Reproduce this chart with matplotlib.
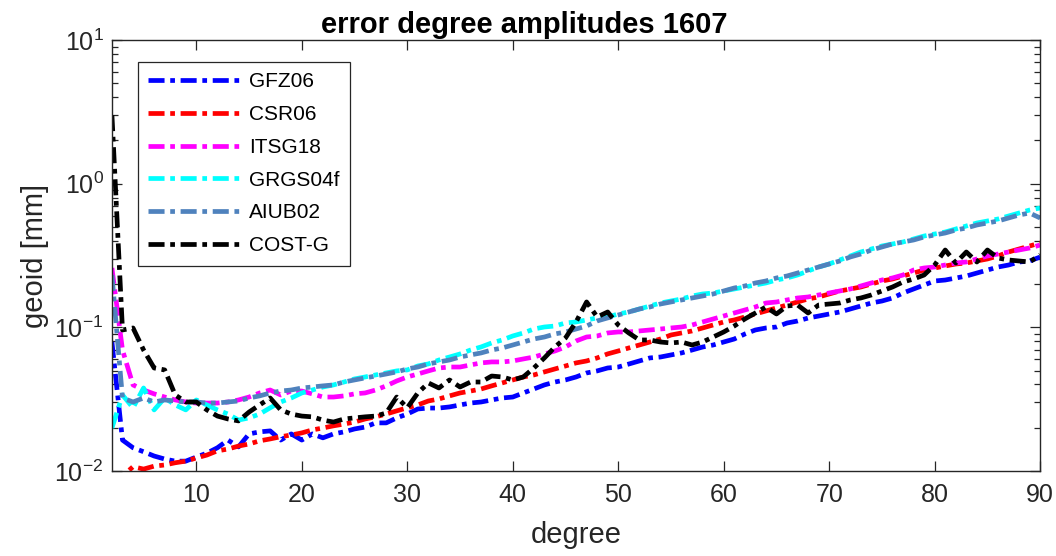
import matplotlib
matplotlib.use("Agg")
import matplotlib.pyplot as plt
import numpy as np

plt.rcParams['font.family'] = ['Liberation Sans', 'DejaVu Sans']
plt.rcParams['mathtext.fontset'] = 'custom'
plt.rcParams['mathtext.rm'] = 'Liberation Sans'
plt.rcParams['mathtext.it'] = 'Liberation Sans'

degree = np.arange(2, 91)

gfz06 = [0.0790, 0.0164, 0.0145, 0.0136, 0.0127, 0.0121, 0.0117, 0.0117, 0.0125, 0.0133,
         0.0145, 0.0164, 0.0147, 0.0181, 0.0187, 0.0190, 0.0164, 0.0181, 0.0164, 0.0181,
         0.0170, 0.0181, 0.0187, 0.0196, 0.0202, 0.0216, 0.0216, 0.0234, 0.0249, 0.0270,
         0.0274, 0.0274, 0.0279, 0.0288, 0.0297, 0.0302, 0.0312, 0.0322, 0.0327, 0.0349,
         0.0372, 0.0397, 0.0416, 0.0430, 0.0451, 0.0481, 0.0497, 0.0521, 0.0529, 0.0555,
         0.0583, 0.0612, 0.0621, 0.0642, 0.0663, 0.0695, 0.0729, 0.0753, 0.0790, 0.0829,
         0.0898, 0.0958, 0.0989, 0.1005, 0.1071, 0.1106, 0.1160, 0.1198, 0.1238, 0.1278,
         0.1341, 0.1407, 0.1476, 0.1524, 0.1599, 0.1733, 0.1848, 0.1970, 0.2101, 0.2134,
         0.2203, 0.2275, 0.2387, 0.2504, 0.2628, 0.2714, 0.2848, 0.2894, 0.3085]

csr06 = [0.0082, 0.0092, 0.0107, 0.0103, 0.0108, 0.0110, 0.0114, 0.0117, 0.0123, 0.0129,
         0.0138, 0.0142, 0.0149, 0.0154, 0.0162, 0.0167, 0.0173, 0.0178, 0.0184, 0.0193,
         0.0199, 0.0206, 0.0212, 0.0219, 0.0230, 0.0238, 0.0249, 0.0262, 0.0275, 0.0288,
         0.0307, 0.0317, 0.0333, 0.0349, 0.0360, 0.0372, 0.0391, 0.0410, 0.0430, 0.0451,
         0.0466, 0.0489, 0.0513, 0.0538, 0.0565, 0.0583, 0.0612, 0.0653, 0.0684, 0.0718,
         0.0753, 0.0790, 0.0829, 0.0884, 0.0913, 0.0943, 0.0989, 0.1038, 0.1089, 0.1125,
         0.1180, 0.1238, 0.1299, 0.1363, 0.1430, 0.1501, 0.1575, 0.1626, 0.1706, 0.1790,
         0.1848, 0.1908, 0.2002, 0.2101, 0.2169, 0.2276, 0.2388, 0.2505, 0.2587, 0.2672,
         0.2759, 0.2803, 0.2895, 0.2990, 0.3136, 0.3344, 0.3509, 0.3682, 0.3863]

itsg18 = [0.259, 0.0695, 0.0397, 0.0366, 0.0344, 0.0327, 0.0312, 0.0302, 0.0297, 0.0297,
          0.0297, 0.0302, 0.0312, 0.0327, 0.0349, 0.0366, 0.0338, 0.0360, 0.0360, 0.0344,
          0.0327, 0.0327, 0.0333, 0.0344, 0.0349, 0.0366, 0.0391, 0.0423, 0.0451, 0.0473,
          0.0497, 0.0521, 0.0529, 0.0529, 0.0547, 0.0565, 0.0574, 0.0574, 0.0583, 0.0602,
          0.0621, 0.0652, 0.0684, 0.0730, 0.0803, 0.0856, 0.0870, 0.0913, 0.0928, 0.0928,
          0.0943, 0.0958, 0.0973, 0.0989, 0.1005, 0.1038, 0.1089, 0.1143, 0.1199, 0.1258,
          0.1320, 0.1385, 0.1476, 0.1500, 0.1550, 0.1600, 0.1626, 0.1679, 0.1733, 0.1790,
          0.1848, 0.1939, 0.2035, 0.2135, 0.2205, 0.2313, 0.2506, 0.2588, 0.2629, 0.2715,
          0.2804, 0.2849, 0.2989, 0.3136, 0.3238, 0.3344, 0.3453, 0.3565, 0.3741]

grgs04f = [0.0199, 0.0338, 0.0275, 0.0378, 0.0266, 0.0322, 0.0288, 0.0266, 0.0312, 0.0288,
           0.0266, 0.0249, 0.0226, 0.0234, 0.0249, 0.0275, 0.0302, 0.0322, 0.0349, 0.0366,
           0.0384, 0.0397, 0.0416, 0.0437, 0.0451, 0.0466, 0.0481, 0.0497, 0.0505, 0.0538,
           0.0556, 0.0592, 0.0621, 0.0652, 0.0695, 0.0730, 0.0778, 0.0816, 0.0870, 0.0913,
           0.0973, 0.1005, 0.1021, 0.1072, 0.1089, 0.1125, 0.1162, 0.1180, 0.1238, 0.1278,
           0.1341, 0.1407, 0.1476, 0.1525, 0.1575, 0.1652, 0.1706, 0.1733, 0.1790, 0.1848,
           0.1908, 0.1970, 0.2035, 0.2135, 0.2205, 0.2313, 0.2466, 0.2629, 0.2759, 0.2942,
           0.3136, 0.3344, 0.3509, 0.3682, 0.3802, 0.3926, 0.4119, 0.4321, 0.4462, 0.4607,
           0.4835, 0.5073, 0.5323, 0.5496, 0.5675, 0.5954, 0.6248, 0.6555, 0.6769]

aiub02 = [0.2313, 0.0322, 0.0302, 0.0322, 0.0302, 0.0312, 0.0307, 0.0302, 0.0302, 0.0297,
          0.0297, 0.0302, 0.0307, 0.0322, 0.0333, 0.0349, 0.0360, 0.0366, 0.0378, 0.0384,
          0.0391, 0.0397, 0.0416, 0.0430, 0.0444, 0.0458, 0.0473, 0.0489, 0.0513, 0.0529,
          0.0556, 0.0574, 0.0592, 0.0621, 0.0642, 0.0663, 0.0695, 0.0718, 0.0753, 0.0790,
          0.0829, 0.0856, 0.0899, 0.0928, 0.0973, 0.1021, 0.1107, 0.1162, 0.1218, 0.1278,
          0.1341, 0.1385, 0.1453, 0.1501, 0.1550, 0.1600, 0.1652, 0.1706, 0.1790, 0.1878,
          0.1939, 0.2035, 0.2101, 0.2205, 0.2276, 0.2388, 0.2506, 0.2629, 0.2759, 0.2895,
          0.3087, 0.3238, 0.3453, 0.3623, 0.3802, 0.3926, 0.4053, 0.4253, 0.4391, 0.4534,
          0.4757, 0.4913, 0.5155, 0.5323, 0.5496, 0.5767, 0.6050, 0.6248, 0.5767]

costg = [3.00, 0.0958, 0.0989, 0.0695, 0.0521, 0.0505, 0.0338, 0.0302, 0.0302, 0.0266,
         0.0241, 0.0230, 0.0223, 0.0257, 0.0288, 0.0322, 0.0266, 0.0249, 0.0241, 0.0238,
         0.0226, 0.0219, 0.0230, 0.0234, 0.0238, 0.0241, 0.0253, 0.0327, 0.0275, 0.0349,
         0.0410, 0.0378, 0.0430, 0.0384, 0.0416, 0.0416, 0.0458, 0.0451, 0.0430, 0.0451,
         0.0521, 0.0612, 0.0730, 0.0843, 0.1089, 0.1501, 0.1180, 0.1278, 0.1038, 0.0913,
         0.0816, 0.0816, 0.0790, 0.0778, 0.0790, 0.0753, 0.0790, 0.0856, 0.0928, 0.1021,
         0.1143, 0.1258, 0.1385, 0.1238, 0.1407, 0.1430, 0.1258, 0.1430, 0.1453, 0.1476,
         0.1550, 0.1600, 0.1679, 0.1790, 0.1908, 0.2068, 0.2169, 0.2313, 0.2715, 0.3453,
         0.2804, 0.3344, 0.2849, 0.3453, 0.3038, 0.2942, 0.2895, 0.2849, 0.3187]

series = [("GFZ06", gfz06, (0, 0, 1)),
          ("CSR06", csr06, (1, 0, 0)),
          ("ITSG18", itsg18, (1, 0, 1)),
          ("GRGS04f", grgs04f, (0, 1, 1)),
          ("AIUB02", aiub02, (0.31, 0.51, 0.74)),
          ("COST-G", costg, (0, 0, 0))]

fig = plt.figure(figsize=(10.56, 5.56), dpi=100)
ax = fig.add_axes([0.106, 0.153, 0.879, 0.775])

for name, vals, col in series:
    ax.semilogy(degree, vals, color=col, linewidth=3.4, linestyle='-.',
                dashes=[3.4, 1.2, 1.0, 1.2], label=name)

ax.set_xlim(2, 90)
ax.set_ylim(1e-2, 1e1)
ax.set_xticks(np.arange(10, 91, 10))
ax.tick_params(which='both', direction='in', top=True, right=True, colors='#262626',
               labelcolor='#262626', labelsize=18)
ax.tick_params(which='major', length=7, width=0.9)
ax.tick_params(which='minor', length=4, width=0.9)
ax.tick_params(axis='x', which='major', pad=9)
ax.tick_params(axis='y', which='major', pad=6)
for sp in ax.spines.values():
    sp.set_color('#262626')
    sp.set_linewidth(1.0)

ax.set_xlabel("degree", fontsize=21, color='#262626', labelpad=10)
ax.set_ylabel("geoid [mm]", fontsize=21, color='#262626', labelpad=4)
ax.set_title("error degree amplitudes 1607", fontsize=21, fontweight='bold', pad=5, x=0.444)

leg = ax.legend(loc='upper left', bbox_to_anchor=(0.028, 0.949), fontsize=15,
                handlelength=4.4, frameon=True, fancybox=False, framealpha=1,
                edgecolor='#262626', borderpad=0.5, labelspacing=0.66, handletextpad=0.45,
                borderaxespad=0)
leg.get_frame().set_linewidth(0.9)

fig.savefig("out.png", dpi=100)
